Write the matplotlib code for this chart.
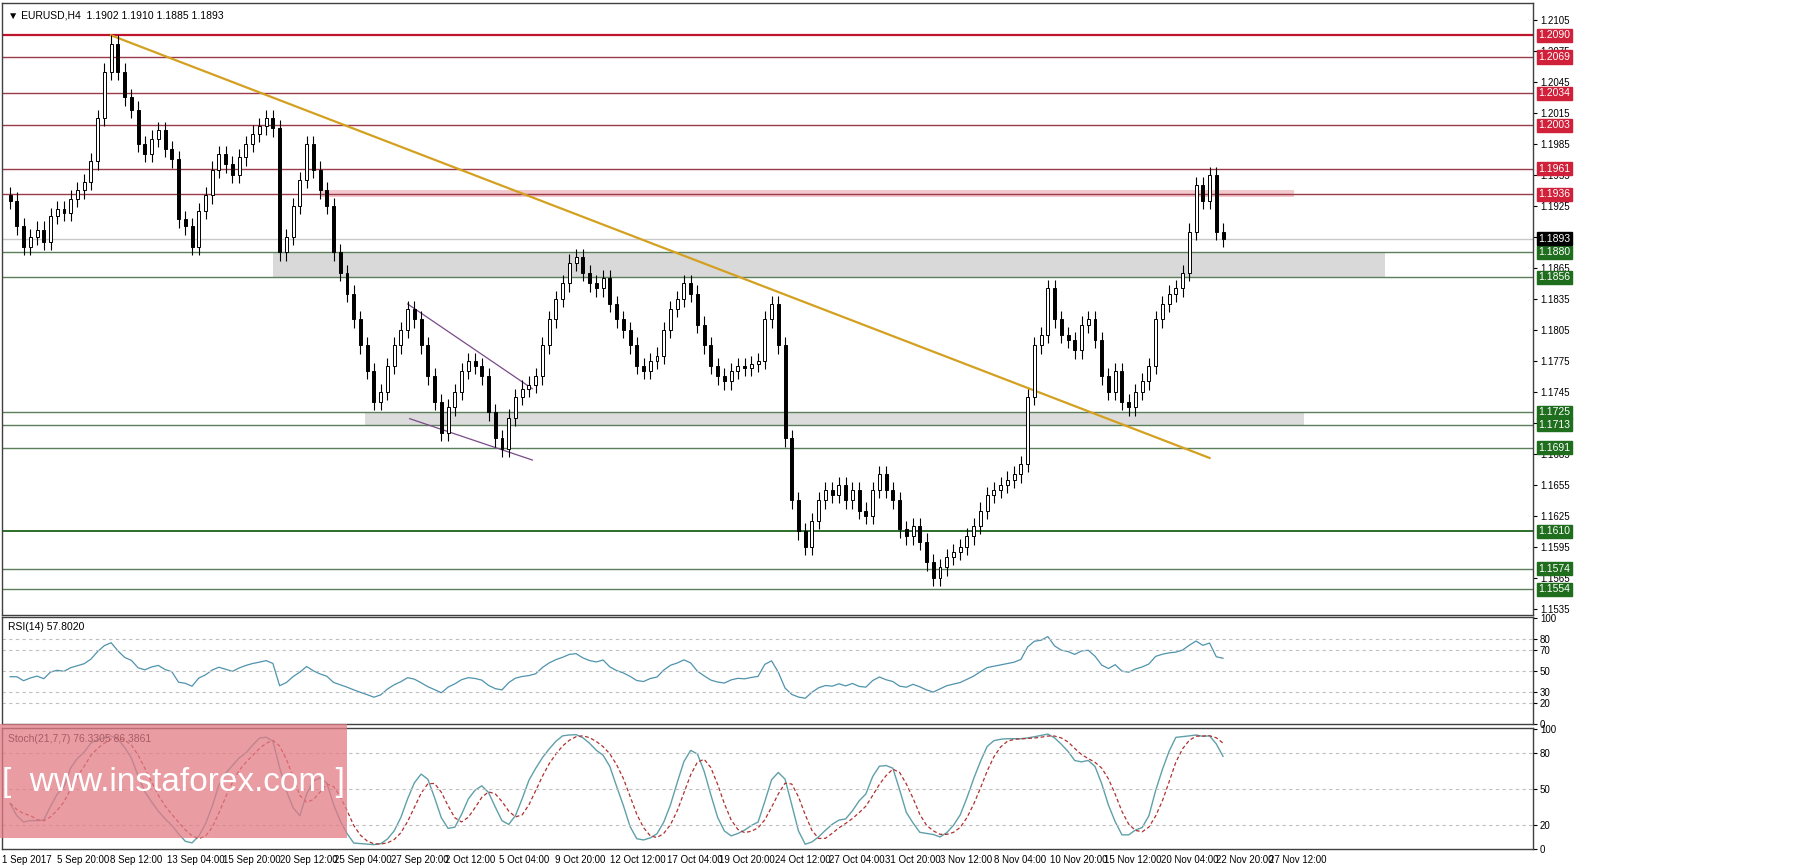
import numpy as np
import matplotlib
matplotlib.use("Agg")
import matplotlib.pyplot as plt
from matplotlib.patches import Rectangle

closes = [1.1930,1.1905,1.1885,1.1895,1.1902,1.1890,1.1915,1.1922,1.1918,1.1932,
1.1940,1.1948,1.1968,1.2010,1.2055,1.2082,1.2055,1.2030,1.2018,1.1985,
1.1975,1.1990,1.1998,1.1980,1.1970,1.1912,1.1905,1.1885,1.1920,1.1935,
1.1960,1.1975,1.1965,1.1955,1.1972,1.1985,1.1995,1.2002,1.2010,1.2000,
1.1880,1.1895,1.1925,1.1950,1.1985,1.1960,1.1940,1.1925,1.1880,1.1860,
1.1840,1.1815,1.1790,1.1765,1.1735,1.1745,1.1770,1.1790,1.1805,1.1825,
1.1815,1.1790,1.1760,1.1735,1.1705,1.1730,1.1745,1.1765,1.1775,1.1770,
1.1760,1.1725,1.1700,1.1690,1.1720,1.1740,1.1748,1.1752,1.1760,1.1790,
1.1815,1.1835,1.1850,1.1870,1.1875,1.1860,1.1850,1.1845,1.1855,1.1830,
1.1815,1.1805,1.1790,1.1770,1.1765,1.1775,1.1780,1.1805,1.1825,1.1835,
1.1850,1.1840,1.1810,1.1790,1.1770,1.1760,1.1755,1.1765,1.1770,1.1768,
1.1772,1.1775,1.1815,1.1830,1.1790,1.1700,1.1640,1.1610,1.1595,1.1620,
1.1640,1.1650,1.1645,1.1655,1.1640,1.1650,1.1630,1.1625,1.1650,1.1665,
1.1650,1.1640,1.1612,1.1605,1.1615,1.1600,1.1580,1.1565,1.1575,1.1585,
1.1590,1.1595,1.1605,1.1615,1.1630,1.1645,1.1650,1.1655,1.1660,1.1665,
1.1675,1.1740,1.1790,1.1800,1.1845,1.1815,1.1800,1.1795,1.1785,1.1810,
1.1815,1.1795,1.1760,1.1745,1.1765,1.1735,1.1730,1.1745,1.1755,1.1770,
1.1815,1.1830,1.1840,1.1845,1.1860,1.1900,1.1945,1.1930,1.1955,1.1900,
1.1893]
first_open = 1.1935
wick = 0.0008

red_levels = [1.2090, 1.2069, 1.2034, 1.2003, 1.1961, 1.1936]
green_levels = [1.1880, 1.1856, 1.1725, 1.1713, 1.1691, 1.1610, 1.1574, 1.1554]
current_price = 1.1893
price_ticks = [1.2105,1.2075,1.2045,1.2015,1.1985,1.1955,1.1925,1.1895,1.1865,1.1835,
               1.1805,1.1775,1.1745,1.1715,1.1685,1.1655,1.1625,1.1595,1.1565,1.1535]
date_labels = ["1 Sep 2017","5 Sep 20:00","8 Sep 12:00","13 Sep 04:00","15 Sep 20:00",
 "20 Sep 12:00","25 Sep 04:00","27 Sep 20:00","2 Oct 12:00","5 Oct 04:00","9 Oct 20:00",
 "12 Oct 12:00","17 Oct 04:00","19 Oct 20:00","24 Oct 12:00","27 Oct 04:00","31 Oct 20:00",
 "3 Nov 12:00","8 Nov 04:00","10 Nov 20:00","15 Nov 12:00","20 Nov 04:00","22 Nov 20:00","27 Nov 12:00"]
date_pos = [-1.2,7,14.9,23.3,31.6,40,48,56.6,64.5,72.6,80.8,89,97.5,105.2,113.5,121.6,129.8,138,146,154.3,162.4,170.8,178.9,186.8]
trend_main = [(15, 1.2090), (178, 1.1681)]
channel_up = [(59, 1.1830), (77.5, 1.1748)]
channel_lo = [(59.3, 1.1719), (77.5, 1.1679)]
zones = [(1.1856, 1.1880, 39, 204, "#d9d9d9"), (1.1713, 1.1725, 52.7, 192, "#dcdcdc"),
         (1.1934, 1.1940, 46, 190.5, "#f2c9cc")]

NARROW = ["DejaVu Sans Condensed", "Liberation Sans Narrow", "Liberation Sans", "DejaVu Sans"]

c = np.array(closes)
o = np.concatenate([[first_open], c[:-1]])
h = np.maximum(o, c) + wick
l = np.minimum(o, c) - wick
n = len(c)
x = np.arange(n)

def rsi(series, p=14):
    d = np.diff(series)
    up = np.where(d > 0, d, 0); dn = np.where(d < 0, -d, 0)
    out = np.full(len(series), np.nan)
    au = 0.0008; ad = 0.0008
    for i in range(len(d)):
        au = (au*(p-1)+up[i])/p; ad = (ad*(p-1)+dn[i])/p
        out[i+1] = 100 - 100/(1+au/max(ad,1e-9))
    out[0] = out[1]
    return out

def sma(a, p):
    out = np.full(len(a), np.nan)
    for i in range(len(a)):
        w = a[max(0, i-p+1):i+1]
        w = w[~np.isnan(w)]
        if len(w): out[i] = w.mean()
    return out

kp = 10
hh = np.array([h[max(0,i-kp+1):i+1].max() for i in range(n)])
ll = np.array([l[max(0,i-kp+1):i+1].min() for i in range(n)])
raw = 100*(c-ll)/(hh-ll)
k = sma(raw, 4); dline = sma(k, 4)
r = rsi(c, 14)

fig = plt.figure(figsize=(18, 8.68), dpi=100)
W, H = 1800, 868
def axrect(x0, y0, x1, y1):
    return [x0/W, 1-y1/H, (x1-x0)/W, (y1-y0)/H]
ax = fig.add_axes(axrect(2, 3, 1533, 615))
ax2 = fig.add_axes(axrect(2, 617, 1533, 724), sharex=ax)
ax3 = fig.add_axes(axrect(2, 728, 1533, 849), sharex=ax)
xl = (-1.2, 226)

for zlo, zhi, x0, x1, col in zones:
    ax.add_patch(Rectangle((x0, zlo), x1-x0, zhi-zlo, color=col, zorder=0, lw=0))
for i, lv in enumerate(red_levels):
    ax.axhline(lv, color="#c0142c" if i == 0 else "#9a3a4a", lw=1.6 if i == 0 else 1.0, zorder=1)
for lv in green_levels:
    ax.axhline(lv, color="#2a6e2a" if lv == 1.1610 else "#5a7f5a", lw=1.4 if lv == 1.1610 else 1.0, zorder=1)
ax.axhline(current_price, color="#c8c8c8", lw=1.0, zorder=1)
for pts, col, lw in [(trend_main, "#d4a020", 1.6), (channel_up, "#7a4a8a", 0.9), (channel_lo, "#7a4a8a", 0.9)]:
    ax.plot([p[0] for p in pts], [p[1] for p in pts], color=col, lw=lw, zorder=2)

for i in range(n):
    ax.vlines(x[i], l[i], h[i], color="black", lw=0.8, zorder=3)
    bull = c[i] >= o[i]
    ax.add_patch(Rectangle((x[i]-0.22, min(o[i], c[i])), 0.44, max(abs(c[i]-o[i]), 0.00005),
                 facecolor="white" if bull else "black", edgecolor="black", lw=0.7, zorder=4))

ax.set_xlim(*xl)
ax.set_ylim(1.15290, 1.21213)
ax.yaxis.tick_right()
ax.set_yticks(price_ticks)
ax.set_yticklabels([f"{t:.4f}" for t in price_ticks])
plt.setp(ax.get_xticklabels(), visible=False)
plt.setp(ax2.get_xticklabels(), visible=False)

def lvl_label(a, v, fc, fg="white"):
    a.text(1.0035, v, f"{v:.4f}", transform=a.get_yaxis_transform(), fontsize=7.5, color=fg, family=NARROW,
           va="center", ha="left", bbox=dict(boxstyle="square,pad=0.15", fc=fc, ec=fc), zorder=10, clip_on=False)
for lv in red_levels: lvl_label(ax, lv, "#d0203a")
for lv in green_levels: lvl_label(ax, lv, "#1e6e1e")
lvl_label(ax, current_price, "black")

ax.text(0.004, 0.988, "\u25bc EURUSD,H4  1.1902 1.1910 1.1885 1.1893", transform=ax.transAxes,
        fontsize=7.5, va="top", family=NARROW)

ax2.plot(x, r, color="#4f93ad", lw=0.9)
ax2.set_ylim(1, 101)
ax2.yaxis.tick_right()
ax2.set_yticks([100, 80, 70, 50, 30, 20, 0])
for v in [80, 70, 50, 30, 20]:
    ax2.axhline(v, color="#c0c0c0", ls=(0, (3, 3)), lw=0.8)
ax2.text(0.004, 0.95, "RSI(14) 57.8020", transform=ax2.transAxes, fontsize=7.5, va="top", family=NARROW)

ax3.plot(x, k, color="#5fa0a8", lw=1.0)
ax3.plot(x, dline, color="#b03030", lw=0.9, ls=(0, (3, 2)))
ax3.set_ylim(0, 101)
ax3.yaxis.tick_right()
ax3.set_yticks([100, 80, 50, 20, 0])
for v in [80, 50, 20]:
    ax3.axhline(v, color="#c0c0c0", ls=(0, (3, 3)), lw=0.8)
ax3.text(0.004, 0.95, "Stoch(21,7,7) 76.3305 86.3861", transform=ax3.transAxes, fontsize=7.5, va="top", family=NARROW)
ax3.set_xticks(date_pos)
ax3.set_xticklabels(date_labels, ha="left")
ax3.tick_params(axis="x", pad=4)

for a in (ax, ax2, ax3):
    a.tick_params(axis="y", length=3, pad=2, right=True, left=False)
    a.tick_params(axis="x", length=0)
    for s in a.spines.values():
        s.set_color("#404040"); s.set_linewidth(1)
    for t in a.get_yticklabels() + a.get_xticklabels():
        t.set_family(NARROW); t.set_fontsize(7)

fig.patches.append(Rectangle((0, 1-838/H), 347/W, 114/H, transform=fig.transFigure,
                             facecolor="#e37b85", alpha=0.75, edgecolor="none", zorder=20))
fig.text(173/W, 1-782/H, "[  www.instaforex.com ]", color="white", fontsize=24, va="center", ha="center",
         family=NARROW, zorder=21)

fig.savefig("out.png", dpi=100, facecolor="white")
